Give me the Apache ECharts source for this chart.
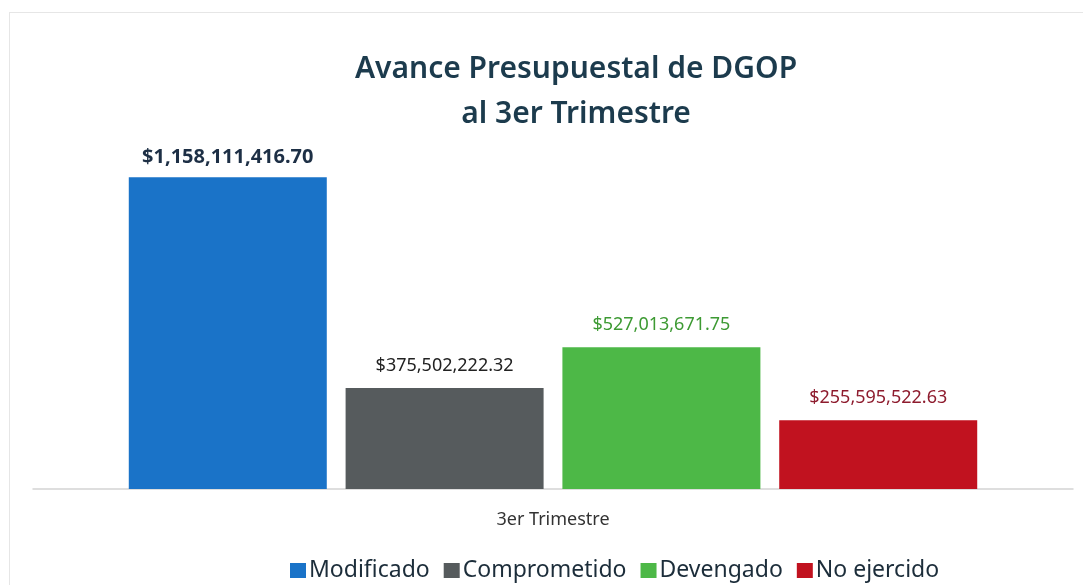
<!DOCTYPE html>
<html>
<head>
<meta charset="utf-8">
<script src="https://cdn.jsdelivr.net/npm/echarts@6/dist/echarts.min.js"></script>
<style>
  html, body { margin: 0; padding: 0; background: #fff; }
  #frame { position: absolute; left: 9px; top: 12px; width: 1083px; height: 585px; border-left: 1px solid #e6e6e6; border-top: 1px solid #e6e6e6; }
  #chart { position: absolute; left: 0; top: 0; width: 1083px; height: 585px; }
</style>
</head>
<body>
<div id="frame"></div>
<div id="chart"></div>
<script>
var categories = ['3er Trimestre'];
var seriesNames = ['Modificado', 'Comprometido', 'Devengado', 'No ejercido'];
var seriesValues = [1158111416.70, 375502222.32, 527013671.75, 255595522.63];

var barColors = ['#1a73c8', '#565b5d', '#4db847', '#c1121f'];
var labelColors = ['#1d2f45', '#222222', '#3d9a33', '#8e1c2e'];

var myChart = echarts.init(document.getElementById('chart'));

function money(v) {
    return '$' + Number(v).toLocaleString('en-US', { minimumFractionDigits: 2, maximumFractionDigits: 2 });
}

var series = [];
for (var i = 0; i < seriesNames.length; i++) {
    series.push({
        name: seriesNames[i],
        type: 'bar',
        data: [seriesValues[i]],
        barWidth: 198,
        barGap: '9.5%',
        itemStyle: { color: barColors[i] },
        label: {
            show: true,
            position: 'top',
            distance: i === 0 ? 10 : 13,
            formatter: function (p) { return money(p.value); },
            color: labelColors[i],
            fontFamily: 'Noto Sans',
            fontSize: i === 0 ? 20 : 18,
            fontWeight: i === 0 ? 'bold' : 'normal',
            letterSpacing: i === 0 ? 0 : -0.6
        }
    });
}

var option = {
    animation: false,
    title: {
        text: 'Avance Presupuestal de DGOP\nal 3er Trimestre',
        left: 571,
        top: 42,
        textAlign: 'center',
        textStyle: {
            fontFamily: 'Noto Sans',
            fontSize: 30,
            fontWeight: 600,
            lineHeight: 45,
            color: '#1c3b4d'
        }
    },
    legend: {
        data: seriesNames,
        left: 285,
        top: 554,
        icon: 'rect',
        itemWidth: 16,
        itemHeight: 15,
        itemGap: 14,
        textStyle: {
            fontFamily: 'Noto Sans',
            fontSize: 23,
            color: '#1c2d3a',
            padding: [0, 0, 0, -2]
        }
    },
    grid: {
        left: 33,
        right: 10,
        top: 166,
        bottom: 96,
        containLabel: false
    },
    xAxis: {
        type: 'category',
        data: categories,
        axisLine: { lineStyle: { color: '#d4d4d4', width: 1.5 } },
        axisTick: { show: false },
        axisLabel: {
            margin: 22,
            fontFamily: 'Noto Sans',
            fontSize: 18,
            color: '#333'
        }
    },
    yAxis: {
        type: 'value',
        min: 0,
        max: 1200000000,
        show: false,
        splitLine: { show: false }
    },
    series: series
};

myChart.setOption(option);
</script>
</body>
</html>
